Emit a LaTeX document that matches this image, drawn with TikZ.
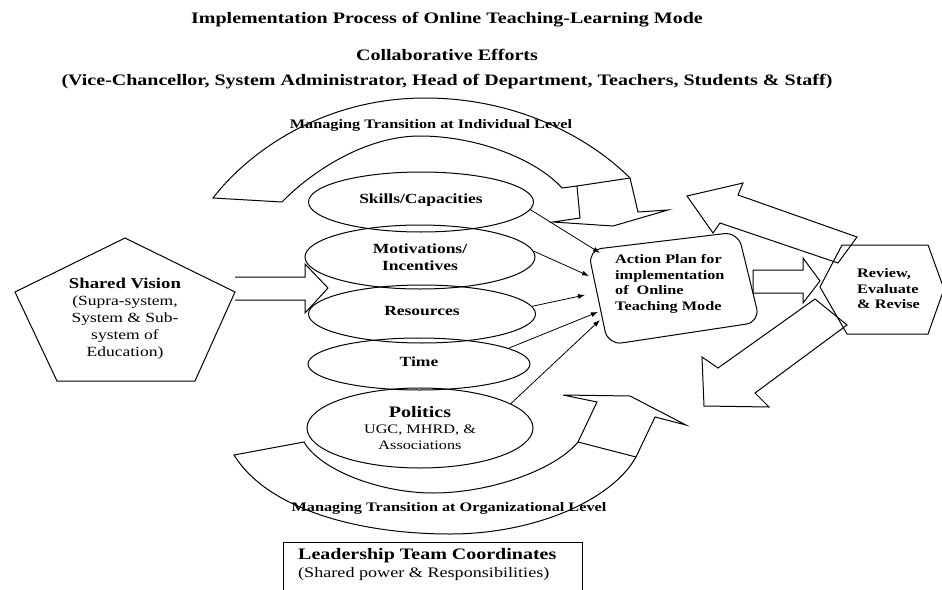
\documentclass[tikz,border=0pt]{standalone}
\usepackage{fontspec}
\setmainfont{Liberation Serif}[FakeStretch=1.25]
\usetikzlibrary{shapes.geometric,arrows.meta}
\begin{document}
\begin{tikzpicture}[x=1pt,y=-1pt,
  shapeline/.style={draw=black,line width=1pt,line join=miter},
  ell/.style={ellipse,draw=black,line width=1pt,inner sep=0pt,align=center,font=\fontsize{14}{17}\selectfont\bfseries},
  titletext/.style={font=\fontsize{16}{19}\selectfont\bfseries,inner sep=0pt},
  lab/.style={font=\fontsize{13}{15}\selectfont\bfseries,inner sep=0pt},
  conn/.style={line width=0.8pt,-{Latex[length=7pt,width=5pt]}},
]
\useasboundingbox (0,0) rectangle (942,589);
\fill[white] (0,0) rectangle (942,589);

% titles
\node[titletext] (t1) at (447,20) {Implementation Process of Online Teaching-Learning Mode};
\node[titletext] (t2) at (447,55) {Collaborative Efforts};
\node[titletext] (t3) at (447,82) {(Vice-Chancellor, System Administrator, Head of Department, Teachers, Students \& Staff)};

% top curved arrow
\draw[shapeline] (213,198) .. controls (250,150) and (325,98) .. (425,98)
  .. controls (520,98) and (592,140) .. (630,178) -- (638,212) -- (668,210)
  -- (613,226) -- (553,222) -- (580,218) -- (577,186) -- (562,188)
  .. controls (537,160) and (478,136) .. (420,136)
  .. controls (360,136) and (305,178) .. (282,202) -- cycle;
\draw[shapeline] (577,186) -- (630,178);
\node[lab] (ind) at (431,125) {Managing Transition at Individual Level};

% bottom curved arrow
\draw[shapeline] (234,455) .. controls (268,510) and (360,534) .. (450,534)
  .. controls (535,534) and (612,500) .. (636,457) -- (655,417) -- (686,425)
  -- (630,396) -- (563,395) -- (597,402) -- (578,442)
  .. controls (555,470) and (490,493) .. (433,493)
  .. controls (380,493) and (320,470) .. (304,442) -- cycle;
\draw[shapeline] (578,442) -- (636,457);
\node[lab] (org) at (449,508) {Managing Transition at Organizational Level};

% ellipses
\node[ell, minimum width=225, minimum height=60] (sk) at (421,202) {\raisebox{6pt}{Skills/Capacities}};
\node[ell, minimum width=230, minimum height=64] (mo) at (420,257) {Motivations/\\Incentives};
\node[ell, minimum width=227, minimum height=58] (re) at (422,314) {\raisebox{7pt}{Resources}};
\node[ell, minimum width=222, minimum height=52] (ti) at (419,364) {\raisebox{5pt}{Time}};
\node[ell, minimum width=226, minimum height=80, font=\fontsize{13}{16}\selectfont] (po) at (420,428)
  {{\fontsize{16}{16}\selectfont\bfseries Politics}\\UGC, MHRD, \&\\Associations};

% shared vision pentagon
\draw[shapeline] (125,238) -- (235,292) -- (195,381) -- (57,381) -- (15,292) -- cycle;
\node[align=center, font=\fontsize{14}{17}\selectfont, inner sep=0pt] (sv) at (125,319)
  {{\fontsize{15}{17}\selectfont\bfseries Shared Vision}\\(Supra-system,\\System \& Sub-\\system of\\Education)};
\draw[shapeline] (235,277) -- (305,277) -- (305,264) -- (328,288) -- (305,313) -- (305,300) -- (235,300);

% action plan
\draw[shapeline, rounded corners=14pt] (588,250) -- (738,232) -- (760,322) -- (608,345) -- cycle;
\node[align=left, font=\fontsize{13}{15.7}\selectfont\bfseries, inner sep=0pt, anchor=west] (plan) at (615,284)
  {Action Plan for\\implementation\\of\hspace{8pt}Online\\Teaching Mode};

% review hexagon
\draw[shapeline] (820,287) -- (842,245) -- (928,245) -- (944,289) -- (928,334) -- (847,334) -- cycle;
\node[align=left, font=\fontsize{13}{15.5}\selectfont\bfseries, inner sep=0pt, anchor=west] (rev) at (857,289)
  {Review,\\Evaluate\\\& Revise};

% block arrows on the right
\draw[shapeline] (753,270) -- (803,270) -- (803,258) -- (820,281) -- (803,303) -- (803,293) -- (753,293) -- cycle;
\draw[shapeline] (687,196) -- (743,183) -- (738,195) -- (857,237) -- (838,263) -- (720,223) -- (713,233) -- cycle;
\draw[shapeline] (815,299) -- (718,368) -- (702,357) -- (704,406) -- (769,407) -- (755,393) -- (847,325) -- cycle;

% connectors into action plan
\coordinate (e1) at (600,253);
\coordinate (e2) at (589,276);
\coordinate (e3) at (585,295);
\coordinate (e4) at (598,312);
\coordinate (e5) at (600,320);
\draw[conn] (sk.-4) -- (e1);
\draw[conn] (mo.3) -- (e2);
\draw[conn] (re.4) -- (e3);
\draw[conn] (ti.10) -- (e4);
\draw[conn] (po.15) -- (e5);

% leadership box
\draw[shapeline] (283,595) -- (283,542) -- (582,542) -- (582,595);
\node[anchor=west, align=left, inner sep=0pt, font=\fontsize{14.5}{18}\selectfont] (lead) at (298,564)
  {{\fontsize{16}{18}\selectfont\bfseries Leadership Team Coordinates}\\(Shared power \& Responsibilities)};
\end{tikzpicture}
\end{document}
